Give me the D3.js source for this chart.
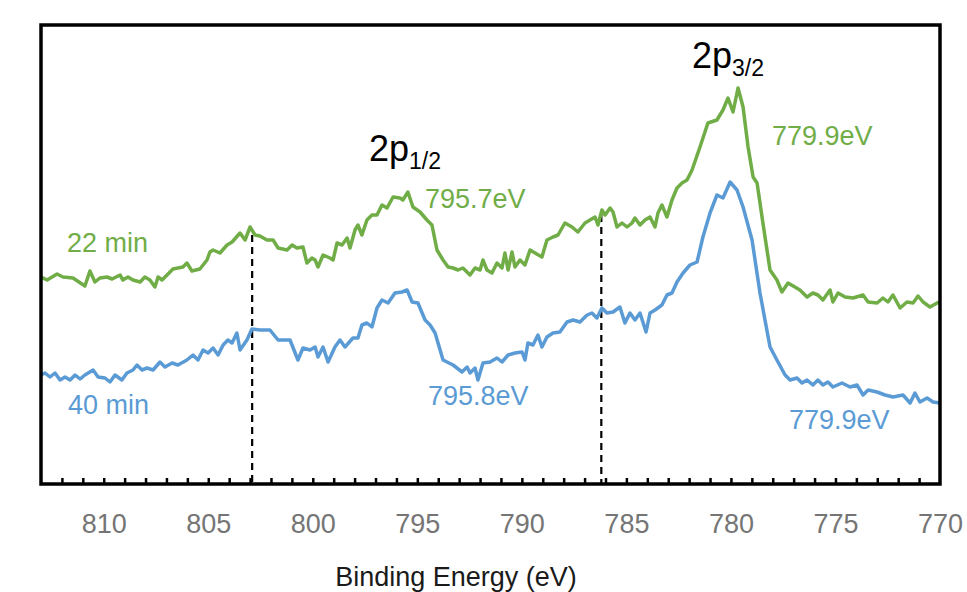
<!DOCTYPE html>
<html>
<head>
<meta charset="utf-8">
<script src="https://cdn.jsdelivr.net/npm/d3@7"></script>
<style>
  body { margin: 0; background: #fff; }
  svg { display: block; font-family: "Liberation Sans", Arial, sans-serif; }
</style>
</head>
<body>
<svg id="chart" width="967" height="592"></svg>
<script>
// XPS Cu 2p spectra, [binding energy eV, intensity a.u.]
const spectrum22 = [
  [813.00,20.7],[812.71,20.4],[812.23,21.0],[811.95,20.7],[811.47,20.6],[810.90,19.8],[810.66,21.3],[810.42,20.2],
  [810.18,20.6],[809.84,20.7],[809.60,20.5],[809.22,20.9],[809.08,20.4],[808.84,20.7],[808.60,20.4],[808.26,20.2],
  [808.03,20.7],[807.79,20.4],[807.55,19.7],[807.40,20.7],[807.21,20.4],[806.97,20.9],[806.69,21.5],[806.21,21.7],
  [806.02,22.1],[805.78,21.3],[805.40,21.5],[805.06,22.4],[804.92,23.2],[804.77,23.4],[804.44,23.1],[804.10,23.9],
  [803.86,24.2],[803.48,25.1],[803.24,24.4],[803.00,25.7],[802.76,24.9],[802.53,24.8],[802.19,24.4],[801.90,24.4],
  [801.66,23.6],[801.23,23.4],[800.99,23.9],[800.76,23.6],[800.47,23.7],[800.28,22.1],[800.04,22.6],[799.89,22.4],
  [799.75,21.7],[799.51,22.9],[799.18,22.6],[799.03,22.4],[798.84,24.1],[798.60,23.9],[798.36,24.6],[798.22,23.6],
  [797.98,25.4],[797.84,25.9],[797.65,24.9],[797.41,26.4],[797.17,26.9],[796.93,26.9],[796.69,27.9],[796.45,27.6],
  [796.16,28.7],[795.83,28.6],[795.69,28.4],[795.45,29.2],[795.21,27.7],[794.87,27.2],[794.54,26.4],[794.30,25.9],
  [794.06,23.4],[793.77,22.4],[793.53,21.7],[793.29,21.6],[793.05,21.4],[792.82,21.6],[792.48,20.9],[792.24,21.6],
  [792.00,21.4],[791.86,22.4],[791.67,21.4],[791.43,21.1],[791.19,22.1],[790.95,21.6],[790.81,23.1],[790.66,21.4],
  [790.47,23.2],[790.33,21.7],[790.09,22.4],[789.85,21.9],[789.61,23.4],[789.37,23.1],[789.04,22.7],[788.80,24.4],
  [788.51,24.7],[788.27,24.9],[787.94,26.1],[787.60,25.7],[787.32,25.2],[786.98,26.1],[786.74,26.4],[786.50,26.7],
  [786.36,25.9],[786.17,27.4],[786.02,26.9],[785.78,27.6],[785.64,27.2],[785.45,25.7],[785.21,26.1],[784.97,25.7],
  [784.73,26.1],[784.59,26.6],[784.35,25.9],[784.11,26.4],[783.87,26.7],[783.63,25.7],[783.49,27.1],[783.30,27.9],
  [783.06,26.7],[782.82,28.4],[782.58,29.6],[782.34,30.1],[782.10,30.4],[781.86,31.4],[781.48,33.7],[781.10,36.1],
  [780.67,36.4],[780.38,37.4],[780.14,38.6],[779.90,37.2],[779.66,39.6],[779.42,37.7],[779.18,33.7],[778.94,30.7],
  [778.75,30.1],[778.47,26.1],[778.13,21.4],[777.80,20.4],[777.56,19.2],[777.27,20.1],[776.94,19.7],[776.70,19.4],
  [776.36,18.7],[776.08,19.1],[775.84,18.9],[775.60,18.4],[775.26,19.4],[775.12,18.2],[774.88,19.1],[774.54,18.7],
  [774.16,18.6],[773.68,18.9],[773.44,18.2],[773.01,18.1],[772.73,18.6],[772.49,18.2],[772.25,18.9],[771.91,17.6],
  [771.58,18.2],[771.29,18.1],[771.05,18.8],[770.81,18.2],[770.48,17.7],[770.14,18.1],[770.00,18.2]
];

const spectrum40 = [
  [813.00,10.9],[812.81,11.1],[812.57,10.7],[812.33,11.1],[812.09,10.4],[811.85,10.7],[811.61,10.4],[811.37,10.9],
  [811.13,10.5],[810.90,10.9],[810.51,11.4],[810.27,10.7],[809.94,10.6],[809.70,10.2],[809.46,10.9],[809.13,10.4],
  [808.89,11.1],[808.60,11.4],[808.41,11.9],[808.17,11.4],[807.93,11.6],[807.64,11.4],[807.31,12.2],[807.07,11.7],
  [806.73,12.1],[806.45,11.9],[806.02,12.4],[805.73,12.9],[805.49,12.4],[805.25,13.4],[805.01,13.1],[804.77,13.6],
  [804.53,12.9],[804.29,13.9],[804.06,14.4],[803.86,14.1],[803.63,15.1],[803.48,13.4],[803.15,14.4],[802.91,15.5],
  [802.53,15.4],[802.05,15.4],[801.66,14.4],[801.09,14.4],[800.71,12.4],[800.47,13.6],[800.13,13.4],[799.89,13.7],
  [799.75,12.7],[799.51,13.7],[799.27,12.2],[798.94,13.7],[798.70,14.4],[798.46,13.7],[798.08,14.6],[797.84,14.6],
  [797.65,15.9],[797.41,16.1],[797.17,15.7],[796.93,17.6],[796.69,18.4],[796.40,18.1],[796.07,19.1],[795.73,19.2],
  [795.49,19.4],[795.25,18.2],[794.97,18.1],[794.63,16.4],[794.39,15.9],[794.15,15.1],[793.77,12.4],[793.29,11.9],
  [792.86,11.2],[792.62,11.7],[792.48,11.1],[792.24,11.6],[792.10,10.4],[791.86,12.1],[791.52,12.2],[791.19,12.6],
  [790.95,12.2],[790.66,12.9],[790.33,13.1],[789.99,13.2],[789.85,12.4],[789.71,14.1],[789.47,13.9],[789.23,14.9],
  [789.04,13.7],[788.80,14.7],[788.51,15.1],[788.18,15.2],[787.84,16.2],[787.55,16.4],[787.22,16.2],[786.88,16.9],
  [786.65,17.1],[786.41,16.6],[786.17,17.6],[785.93,17.1],[785.64,17.2],[785.31,17.7],[785.07,16.1],[784.83,17.1],
  [784.59,16.4],[784.35,17.1],[784.06,15.2],[783.87,17.1],[783.63,17.4],[783.30,17.9],[783.06,18.9],[782.82,19.1],
  [782.58,20.2],[782.29,21.1],[781.96,21.9],[781.62,22.2],[781.34,24.7],[781.00,27.1],[780.67,28.9],[780.38,28.6],
  [780.04,30.2],[779.71,29.4],[779.42,27.7],[778.99,24.4],[778.61,19.1],[778.13,13.7],[777.80,12.4],[777.41,10.9],
  [777.17,10.4],[776.84,10.6],[776.60,10.1],[776.36,10.4],[776.08,9.9],[775.84,10.4],[775.60,9.9],[775.36,10.2],
  [775.12,9.7],[774.69,10.1],[774.30,9.7],[773.97,9.9],[773.68,8.9],[773.44,9.4],[773.01,9.2],[772.63,8.9],
  [772.25,8.7],[771.77,8.9],[771.43,8.1],[771.20,9.1],[770.96,8.2],[770.62,8.6],[770.33,8.2],[770.00,8.1]
];

// satellite markers: [eV, intensity at top of dashed line]
const satellites = [[802.9, 24.9], [786.2, 26.9]];

const tickLabels = [810, 805, 800, 795, 790, 785, 780, 775, 770];
const minorTicks = d3.range(812, 770, -1);

const green = "#70ad47";
const blue = "#5b9bd5";

const svg = d3.select("#chart");
const plotLeft = 41, plotRight = 940, plotTop = 25, plotBottom = 484;

const x = d3.scaleLinear().domain([813, 770]).range([plotLeft, plotRight]);
const y = d3.scaleLinear().domain([0, 45.9]).range([plotBottom, plotTop]);

svg.append("rect").attr("width", 967).attr("height", 592).attr("fill", "#fff");

// minor ticks inside the bottom frame
svg.append("g")
  .attr("transform", `translate(0,${plotBottom})`)
  .call(d3.axisTop(x).tickValues(minorTicks).tickSize(6).tickFormat(""))
  .call(g => g.select(".domain").remove())
  .call(g => g.selectAll("line").attr("stroke", "#000").attr("stroke-width", 2.5));

// tick labels
svg.append("g")
  .attr("transform", `translate(0,${plotBottom})`)
  .call(d3.axisBottom(x).tickValues(tickLabels).tickSize(0).tickPadding(30))
  .call(g => g.select(".domain").remove())
  .call(g => g.selectAll("text")
    .attr("fill", "#757575")
    .attr("font-size", 27)
    .attr("font-family", "Liberation Sans, Arial, sans-serif"));

// dashed satellite lines
svg.selectAll(".sat")
  .data(satellites)
  .enter()
  .append("line")
  .attr("x1", d => x(d[0]))
  .attr("x2", d => x(d[0]))
  .attr("y1", d => y(d[1]))
  .attr("y2", plotBottom)
  .attr("stroke", "#000")
  .attr("stroke-width", 2.2)
  .attr("stroke-dasharray", "7,5");

const line = d3.line()
  .x(d => x(d[0]))
  .y(d => y(d[1]));

svg.append("path")
  .datum(spectrum40)
  .attr("fill", "none")
  .attr("stroke", blue)
  .attr("stroke-width", 3.5)
  .attr("stroke-linejoin", "round")
  .attr("d", line);

svg.append("path")
  .datum(spectrum22)
  .attr("fill", "none")
  .attr("stroke", green)
  .attr("stroke-width", 3.5)
  .attr("stroke-linejoin", "round")
  .attr("d", line);

// frame
svg.append("rect")
  .attr("x", plotLeft).attr("y", plotTop)
  .attr("width", plotRight - plotLeft).attr("height", plotBottom - plotTop)
  .attr("fill", "none")
  .attr("stroke", "#000")
  .attr("stroke-width", 3.5);

// labels
const labels = [
  { text: "22 min", x: 67, y: 252, color: green },
  { text: "40 min", x: 68, y: 414, color: blue },
  { text: "795.7eV", x: 425, y: 208, color: green },
  { text: "779.9eV", x: 772, y: 145, color: green },
  { text: "795.8eV", x: 428, y: 405, color: blue },
  { text: "779.9eV", x: 789, y: 429, color: blue }
];
svg.selectAll(".lbl")
  .data(labels)
  .enter()
  .append("text")
  .attr("x", d => d.x)
  .attr("y", d => d.y)
  .attr("fill", d => d.color)
  .attr("font-size", 27)
  .text(d => d.text);

const peaks = [
  { main: "2p", sub: "1/2", x: 369, y: 161 },
  { main: "2p", sub: "3/2", x: 692, y: 68 }
];
peaks.forEach(p => {
  const t = svg.append("text")
    .attr("x", p.x).attr("y", p.y)
    .attr("fill", "#000")
    .attr("font-size", 36);
  t.append("tspan").text(p.main);
  t.append("tspan").attr("font-size", 23).attr("dy", 8).text(p.sub);
});

svg.append("text")
  .attr("x", 456)
  .attr("y", 586)
  .attr("text-anchor", "middle")
  .attr("fill", "#1a1a1a")
  .attr("font-size", 27)
  .text("Binding Energy (eV)");
</script>
</body>
</html>
